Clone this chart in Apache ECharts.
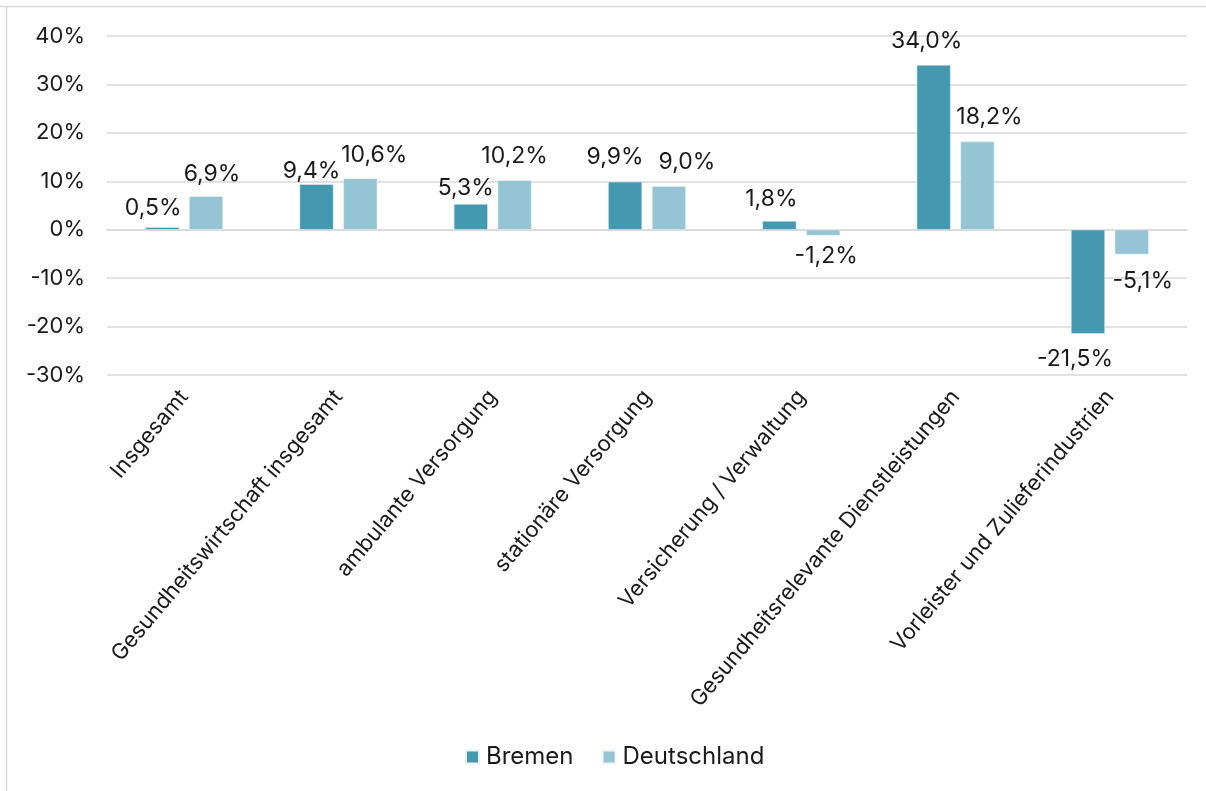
<!DOCTYPE html>
<html>
<head>
<meta charset="utf-8">
<script src="https://cdn.jsdelivr.net/npm/echarts@6/dist/echarts.min.js"></script>
<style>
  html, body { margin: 0; padding: 0; background: #ffffff; }
  #chart { width: 1206px; height: 791px; }
</style>
</head>
<body>
<div id="chart"></div>
<script>
// Categories of the health economy sectors
const categories = [
  'Insgesamt',
  'Gesundheitswirtschaft insgesamt',
  'ambulante Versorgung',
  'stationäre Versorgung',
  'Versicherung / Verwaltung',
  'Gesundheitsrelevante Dienstleistungen',
  'Vorleister und Zulieferindustrien'
];
// Change in percent
const bremen = [0.5, 9.4, 5.3, 9.9, 1.8, 34.0, -21.5];
const deutschland = [6.9, 10.6, 10.2, 9.0, -1.2, 18.2, -5.1];
const seriesNames = ['Bremen', 'Deutschland'];

// Manual nudges [dx, dy] of the value labels, so neighbouring labels do not collide
const labelNudgeBremen = [[-9, 4], [-5, 10], [-5, 8], [-10, -1], [-8, 2], [-7, 0], [-13, 2]];
const labelNudgeDeutschland = [[6, 1], [14, 0], [0, -1], [18, -1], [3, -3], [12, -1], [11, 3]];

const FONT = 'Inter';
const TEXT = '#1a1a1a';
const fmt = v => v.toFixed(1).replace('.', ',') + '%';

function toData(values, nudges) {
  return values.map((v, i) => ({
    value: v,
    label: { position: v < 0 ? 'bottom' : 'top', offset: nudges[i] }
  }));
}

function barSeries(name, values, nudges, color, edge) {
  return {
    name: name,
    type: 'bar',
    data: toData(values, nudges),
    barWidth: '22%',
    barGap: '29%',
    itemStyle: { color: color, borderColor: edge, borderWidth: 0.5 },
    label: {
      show: true,
      formatter: p => fmt(p.value),
      fontFamily: FONT,
      fontSize: 23,
      color: TEXT,
      distance: 12
    }
  };
}

const chart = echarts.init(document.getElementById('chart'), null, { renderer: 'canvas' });

chart.setOption({
  animation: false,
  backgroundColor: '#ffffff',
  textStyle: { fontFamily: FONT },
  graphic: [
    { type: 'line', shape: { x1: 0, y1: 6.5, x2: 1206, y2: 6.5 }, style: { stroke: '#d9d9d9', lineWidth: 1.5 } },
    { type: 'line', shape: { x1: 6.5, y1: 6, x2: 6.5, y2: 791 }, style: { stroke: '#d9d9d9', lineWidth: 1.5 } }
  ],
  legend: {
    bottom: 17,
    left: 460,
    itemWidth: 13,
    itemHeight: 13,
    itemGap: 28,
    icon: 'rect',
    textStyle: { fontFamily: FONT, fontSize: 24, color: TEXT, padding: [0, 0, 0, 2] },
    data: seriesNames
  },
  grid: { left: 107, right: 19, top: 36, bottom: 416, containLabel: false },
  xAxis: {
    type: 'category',
    data: categories,
    axisTick: { show: false },
    axisLine: { show: true, onZero: true, lineStyle: { color: '#d9d9d9', width: 1.5 } },
    axisLabel: {
      interval: 0,
      rotate: 50,
      margin: 18,
      fontFamily: FONT,
      fontSize: 22,
      color: TEXT
    }
  },
  yAxis: {
    type: 'value',
    min: -30,
    max: 40,
    interval: 10,
    axisLine: { show: false },
    axisTick: { show: false },
    splitLine: { lineStyle: { color: '#d9d9d9', width: 1.5 } },
    axisLabel: {
      formatter: v => v + '%',
      fontFamily: FONT,
      fontSize: 22,
      color: TEXT,
      margin: 22
    }
  },
  series: [
    barSeries(seriesNames[0], bremen, labelNudgeBremen, '#4499b1', '#e8f3f6'),
    barSeries(seriesNames[1], deutschland, labelNudgeDeutschland, '#95c4d4', '#eef6f9')
  ]
});
</script>
</body>
</html>
